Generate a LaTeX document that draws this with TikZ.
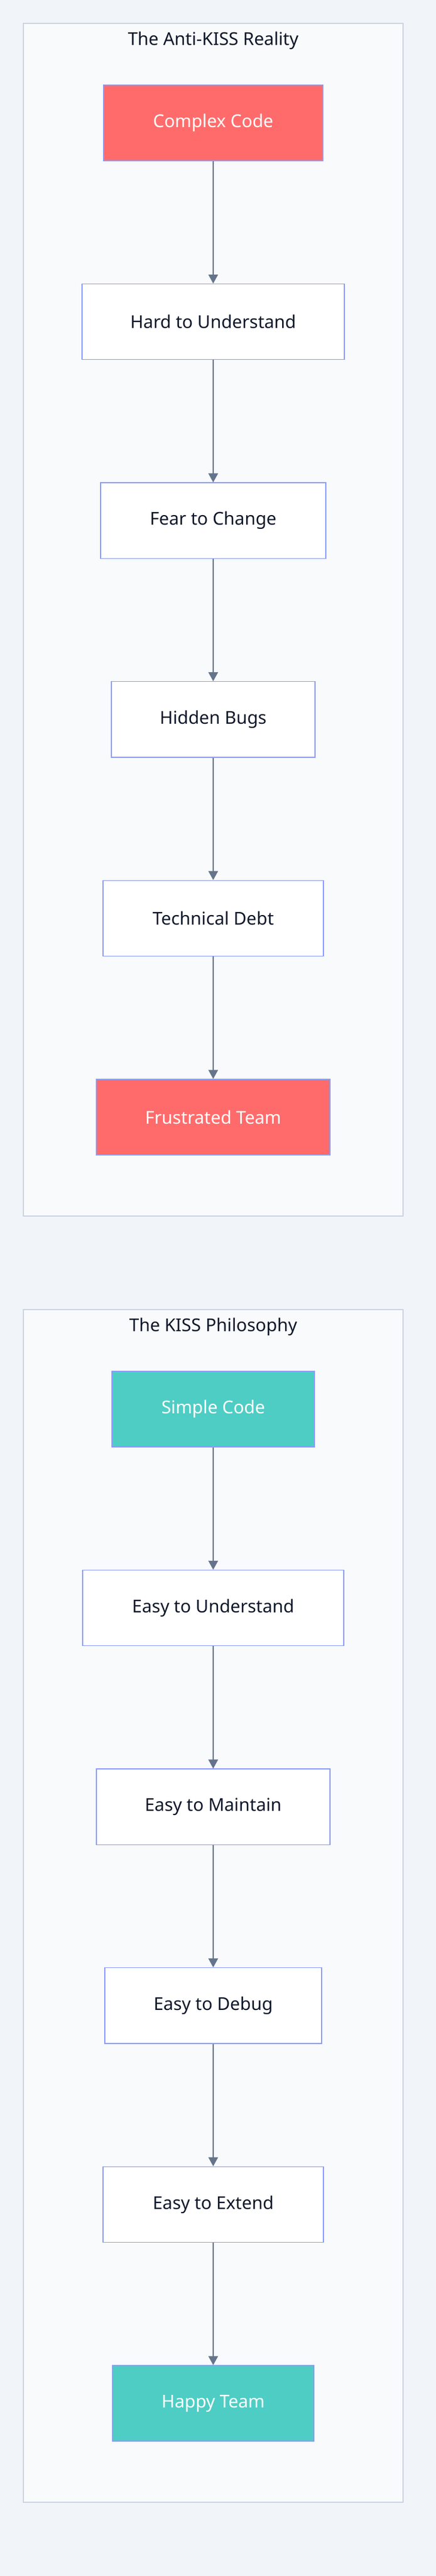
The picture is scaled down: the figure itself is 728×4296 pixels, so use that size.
\documentclass[tikz,border=0pt]{standalone}
\usepackage{fontspec}
\setmainfont{Noto Sans}
\usetikzlibrary{arrows.meta}
\usetikzlibrary{positioning}
\definecolor{pagebg}{HTML}{F1F4F9}
\definecolor{boxbg}{HTML}{F8FAFC}
\definecolor{boxline}{HTML}{CBD5E1}
\definecolor{nodeline}{HTML}{8C9CF8}
\definecolor{badred}{HTML}{FF6B6B}
\definecolor{goodteal}{HTML}{4ECDC4}
\definecolor{edgecol}{HTML}{64748B}
\definecolor{inkcol}{HTML}{0F172A}

\begin{document}
\begin{tikzpicture}[x=0.01cm,y=-0.01cm,>={Triangle[length=0.15cm,width=0.16cm]},
	every node/.style={font=\fontsize{8.4}{10}\selectfont},
	flow/.style={draw=nodeline,line width=0.4pt,fill=white,text=inkcol,minimum height=1.26cm,inner sep=0pt},
	bad/.style={flow,fill=badred,text=white},
	good/.style={flow,fill=goodteal,text=white},
	group/.style={draw=boxline,line width=0.6pt,fill=boxbg},
	link/.style={->,draw=edgecol,line width=0.5pt},
	node distance=2.04cm]
	\fill[pagebg] (0,0) rectangle (728,4296);
	\useasboundingbox (0,0) rectangle (728,4296);
	% the anti-KISS chain
	\draw[group] (39,39) rectangle (673,2028);
	\node[text=inkcol,anchor=base] (t1) at (356,75) {The Anti-KISS Reality};
	\node[bad,minimum width=3.66cm] (cc) at (356,205) {Complex Code};
	\node[flow,minimum width=4.38cm,below=of cc] (hu) {Hard to Understand};
	\node[flow,minimum width=3.76cm,below=of hu] (fc) {Fear to Change};
	\node[flow,minimum width=3.40cm,below=of fc] (hb) {Hidden Bugs};
	\node[flow,minimum width=3.68cm,below=of hb] (td) {Technical Debt};
	\node[bad,minimum width=3.90cm,below=of td] (ft) {Frustrated Team};
	\draw[link] (cc) -- (hu);
	\draw[link] (hu) -- (fc);
	\draw[link] (fc) -- (hb);
	\draw[link] (hb) -- (td);
	\draw[link] (td) -- (ft);
	% the KISS chain
	\draw[group] (39,2184) rectangle (673,4173);
	\node[text=inkcol,anchor=base] (t2) at (356,2220) {The KISS Philosophy};
	\node[good,minimum width=3.38cm] (sc) at (356,2350) {Simple Code};
	\node[flow,minimum width=4.36cm,below=of sc] (eu) {Easy to Understand};
	\node[flow,minimum width=3.90cm,below=of eu] (em) {Easy to Maintain};
	\node[flow,minimum width=3.62cm,below=of em] (ed) {Easy to Debug};
	\node[flow,minimum width=3.68cm,below=of ed] (ee) {Easy to Extend};
	\node[good,minimum width=3.36cm,below=of ee] (ht) {Happy Team};
	\draw[link] (sc) -- (eu);
	\draw[link] (eu) -- (em);
	\draw[link] (em) -- (ed);
	\draw[link] (ed) -- (ee);
	\draw[link] (ee) -- (ht);
\end{tikzpicture}
\end{document}
